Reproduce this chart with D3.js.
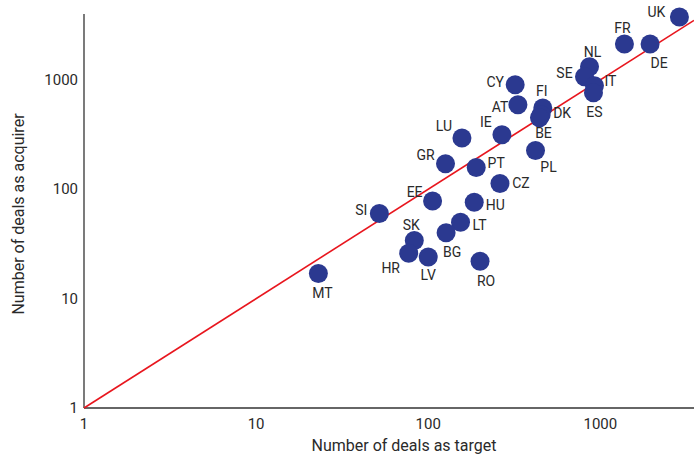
<!DOCTYPE html>
<html>
<head>
<meta charset="utf-8">
<script src="https://cdn.jsdelivr.net/npm/d3@7"></script>
<style>
  body { margin: 0; background: #fff; }
  text { font-family: "Liberation Sans Narrow", "Roboto", "DejaVu Sans Condensed", sans-serif; fill: #2a2a2a; }
</style>
</head>
<body>
<script>
// countries, deals as target (x) and as acquirer (y)
const countries = ["UK","FR","DE","NL","SE","IT","ES","CY","AT","FI","DK","BE","IE","LU","GR","PT","PL","CZ","EE","HU","SI","LT","BG","SK","HR","LV","RO","MT"]
const asTarget   = [2880,1380,1945,865,809,924,912,320,332,463,453,443,268,157,126,190,420,261,106,185,52,154,127,83,77,100,200,23]
const asAcquirer = [3755,2127,2127,1318,1067,883,762,902,592,552,479,450,315,294,171,158,226,113,78,76,60,50,40,34,26,24,22,17]
// label offsets (pixels from point centre)
const labelDx = [-23,-2,9,3,-20,16,1,-20,-18,-1,21,4,-16,-18,-20,20,13,21,-18,21,-18,19,6,-3,-18,0,6,4]
const labelDy = [-5,-16,19,-15,-4,-5,19,-3,2,-17,-2,15,-13,-12,-9,-5,16,0,-9,3,-4,3,19,-15,15,18,20,20]

const xTicks = [1, 10, 100, 1000]
const yTicks = [1, 10, 100, 1000]

const width = 694, height = 456

const svg = d3.select("body").append("svg")
    .attr("width", width)
    .attr("height", height)

const x = d3.scaleLog().domain([1, 3500]).range([84, 694])
const y = d3.scaleLog().domain([1, 4000]).range([408, 14])

// axes
svg.append("line")
    .attr("x1", x(1)).attr("x2", 694)
    .attr("y1", y(1)).attr("y2", y(1))
    .attr("stroke", "#333").attr("stroke-width", 1.3)
svg.append("line")
    .attr("x1", x(1)).attr("x2", x(1))
    .attr("y1", y(1)).attr("y2", 14)
    .attr("stroke", "#333").attr("stroke-width", 1.3)

svg.selectAll(".xt")
    .data(xTicks)
    .enter()
    .append("text")
    .attr("x", d => x(d))
    .attr("y", 429)
    .attr("text-anchor", "middle")
    .style("font-size", "15px")
    .text(d => d)

svg.selectAll(".yt")
    .data(yTicks)
    .enter()
    .append("text")
    .attr("x", 78)
    .attr("y", d => y(d) + 5)
    .attr("text-anchor", "end")
    .style("font-size", "15px")
    .text(d => d)

svg.append("text")
    .attr("x", 404)
    .attr("y", 451)
    .attr("text-anchor", "middle")
    .style("font-size", "16px")
    .text("Number of deals as target")

svg.append("text")
    .attr("transform", "translate(24,214) rotate(-90)")
    .attr("text-anchor", "middle")
    .style("font-size", "16px")
    .text("Number of deals as acquirer")

// y = x reference line
svg.append("line")
    .attr("x1", x(1)).attr("y1", y(1))
    .attr("x2", x(3500)).attr("y2", y(3500))
    .attr("stroke", "#e8161e").attr("stroke-width", 1.6)

const data = countries.map((c, i) => ({c: c, t: asTarget[i], a: asAcquirer[i], dx: labelDx[i], dy: labelDy[i]}))

svg.selectAll("circle")
    .data(data)
    .enter()
    .append("circle")
    .attr("cx", d => x(d.t))
    .attr("cy", d => y(d.a))
    .attr("r", 9.5)
    .style("fill", "#2b3990")

svg.selectAll(".lab")
    .data(data)
    .enter()
    .append("text")
    .attr("x", d => x(d.t) + d.dx)
    .attr("y", d => y(d.a) + d.dy + 5)
    .attr("text-anchor", "middle")
    .style("font-size", "14px")
    .text(d => d.c)
</script>
</body>
</html>
